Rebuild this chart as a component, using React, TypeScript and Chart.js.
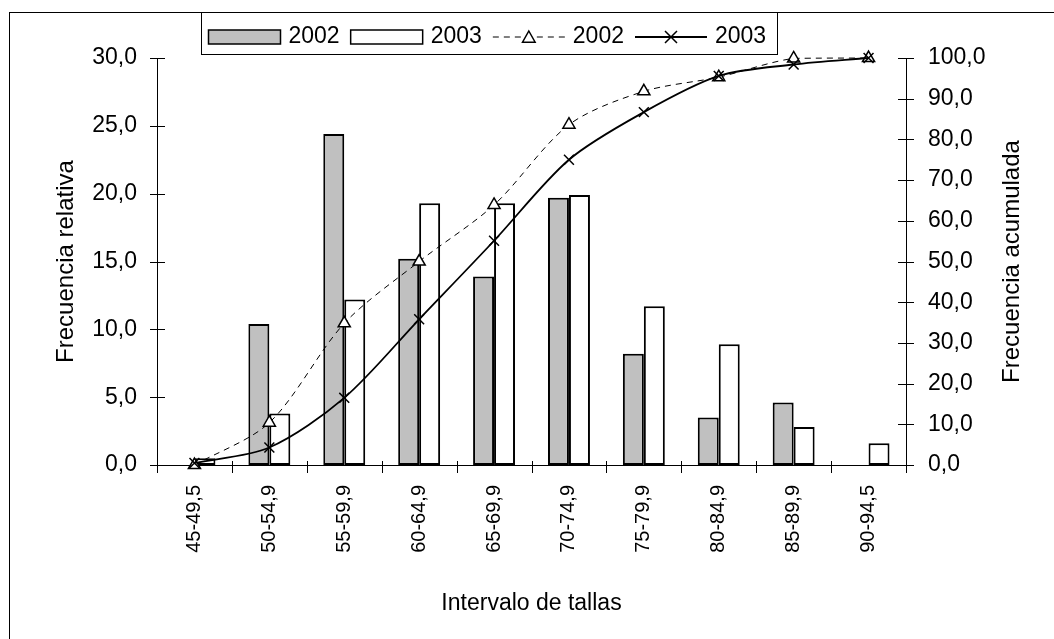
import React, { useEffect, useRef } from 'react';
import { Chart, registerables } from 'chart.js';

Chart.register(...registerables);

const FONT = "'Liberation Sans', Arial, sans-serif";

const categories = ['45-49,5', '50-54,9', '55-59,9', '60-64,9', '65-69,9', '70-74,9', '75-79,9', '80-84,9', '85-89,9', '90-94,5'];
const rel2002 = [0, 10.4, 24.4, 15.2, 13.9, 19.7, 8.2, 3.5, 4.6, 0];
const rel2003 = [0.5, 3.8, 12.2, 19.3, 19.3, 19.9, 11.7, 8.9, 2.8, 1.6];
const cum2002 = [0, 10.4, 34.8, 50.0, 63.9, 83.6, 91.8, 95.3, 99.9, 100];
const cum2003 = [0.5, 4.3, 16.5, 35.8, 55.1, 75.0, 86.7, 95.6, 98.4, 100];

const leftAxis = { min: 0, max: 30, step: 5 };
const rightAxis = { min: 0, max: 100, step: 10 };

const legendLabels = ['2002', '2003', '2002', '2003'];
const titleLeft = 'Frecuencia relativa';
const titleRight = 'Frecuencia acumulada';
const titleX = 'Intervalo de tallas';

const fmt = (v: number) => Number(v).toFixed(1).replace('.', ',');

function drawTriangle(ctx: CanvasRenderingContext2D, x: number, y: number, r: number) {
  ctx.beginPath();
  ctx.moveTo(x, y - r);
  ctx.lineTo(x + r * 0.9, y + r * 0.6);
  ctx.lineTo(x - r * 0.9, y + r * 0.6);
  ctx.closePath();
  ctx.fillStyle = '#fff';
  ctx.fill();
  ctx.setLineDash([]);
  ctx.lineWidth = 1.5;
  ctx.strokeStyle = '#000';
  ctx.stroke();
}

function drawCross(ctx: CanvasRenderingContext2D, x: number, y: number, r: number) {
  ctx.beginPath();
  ctx.moveTo(x - r, y - r);
  ctx.lineTo(x + r, y + r);
  ctx.moveTo(x + r, y - r);
  ctx.lineTo(x - r, y + r);
  ctx.setLineDash([]);
  ctx.lineWidth = 1.5;
  ctx.strokeStyle = '#000';
  ctx.stroke();
}

const decor = {
  id: 'decor',
  afterDraw(chart: any) {
    const ctx: CanvasRenderingContext2D = chart.ctx;
    const xs = chart.scales.x;
    const ys = chart.scales.y;
    const y1 = chart.scales.y1;
    const area = chart.chartArea;
    ctx.save();
    // outer frame
    ctx.strokeStyle = '#000';
    ctx.lineWidth = 1;
    ctx.setLineDash([]);
    ctx.strokeRect(9.5, 12.5, 2000, 2000);

    // tick marks
    ctx.beginPath();
    ys.ticks.forEach((t: any) => {
      const py = Math.round(ys.getPixelForValue(t.value)) + 0.5;
      ctx.moveTo(area.left - 7, py);
      ctx.lineTo(area.left + 8, py);
    });
    y1.ticks.forEach((t: any) => {
      const py = Math.round(y1.getPixelForValue(t.value)) + 0.5;
      ctx.moveTo(area.right - 8, py);
      ctx.lineTo(area.right + 8, py);
    });
    const n = categories.length;
    const half = (xs.getPixelForValue(1) - xs.getPixelForValue(0)) / 2;
    for (let i = 0; i <= n; i++) {
      const px = Math.round(i < n ? xs.getPixelForValue(i) - half : xs.getPixelForValue(n - 1) + half) + 0.5;
      ctx.moveTo(px, area.bottom - 4);
      ctx.lineTo(px, area.bottom + 8);
    }
    ctx.stroke();

    // right axis title (reads bottom-to-top)
    ctx.save();
    ctx.translate(1012, (area.top + area.bottom) / 2);
    ctx.rotate(-Math.PI / 2);
    ctx.font = `24px ${FONT}`;
    ctx.fillStyle = '#000';
    ctx.textAlign = 'center';
    ctx.textBaseline = 'middle';
    ctx.fillText(titleRight, 0, 0);
    ctx.restore();

    // legend
    ctx.font = `23px ${FONT}`;
    ctx.textBaseline = 'middle';
    ctx.textAlign = 'left';
    const boxLeft = 201.5;
    const boxTop = 12.5;
    const boxH = 42;
    const cy = 37;
    const symW = 72;
    let total = 7;
    legendLabels.forEach((l) => {
      total += symW + 8 + ctx.measureText(l).width + 11;
    });
    ctx.fillStyle = '#fff';
    ctx.fillRect(boxLeft, boxTop, total, boxH);
    ctx.strokeStyle = '#000';
    ctx.lineWidth = 1;
    ctx.strokeRect(boxLeft, boxTop, Math.round(total), boxH);
    let lx = boxLeft + 7;
    legendLabels.forEach((l, i) => {
      const ds = chart.data.datasets[i];
      if (i < 2) {
        ctx.fillStyle = ds.backgroundColor;
        ctx.fillRect(lx, cy - 7, symW, 14);
        ctx.lineWidth = 1.5;
        ctx.strokeStyle = '#000';
        ctx.strokeRect(lx, cy - 7, symW, 14);
      } else {
        ctx.beginPath();
        ctx.setLineDash(ds.borderDash || []);
        ctx.lineWidth = ds.borderWidth;
        ctx.strokeStyle = '#000';
        ctx.moveTo(lx, cy);
        ctx.lineTo(lx + symW, cy);
        ctx.stroke();
        ctx.setLineDash([]);
        if (i === 2) drawTriangle(ctx, lx + symW / 2, cy + 1, 7);
        else drawCross(ctx, lx + symW / 2, cy, 6);
      }
      lx += symW + 8;
      ctx.fillStyle = '#000';
      ctx.fillText(l, lx, cy);
      lx += ctx.measureText(l).width + 11;
    });
    ctx.restore();
  },
};

export default function App() {
  const ref = useRef<HTMLCanvasElement | null>(null);
  useEffect(() => {
    document.body.style.margin = '0';
    const canvas = ref.current;
    if (!canvas) return;
    const tri = document.createElement('canvas');
    const chart = new Chart(canvas, {
      type: 'bar',
      data: {
        labels: categories,
        datasets: [
          {
            type: 'bar',
            label: '2002',
            data: rel2002,
            backgroundColor: '#c0c0c0',
            borderColor: '#000',
            borderWidth: 2,
            borderSkipped: false,
            yAxisID: 'y',
            categoryPercentage: 0.56,
            barPercentage: 1.0,
            order: 2,
          },
          {
            type: 'bar',
            label: '2003',
            data: rel2003,
            backgroundColor: '#ffffff',
            borderColor: '#000',
            borderWidth: 2,
            borderSkipped: false,
            yAxisID: 'y',
            categoryPercentage: 0.56,
            barPercentage: 1.0,
            order: 2,
          },
          {
            type: 'line',
            label: '2002',
            data: cum2002,
            borderColor: '#000',
            borderWidth: 1,
            borderDash: [6, 5],
            tension: 0.3,
            pointStyle: 'triangle',
            pointRadius: 7,
            pointBorderWidth: 1.5,
            pointBackgroundColor: '#fff',
            pointBorderColor: '#000',
            yAxisID: 'y1',
            clip: false,
            order: 1,
          },
          {
            type: 'line',
            label: '2003',
            data: cum2003,
            borderColor: '#000',
            borderWidth: 1.8,
            tension: 0.3,
            pointStyle: 'crossRot',
            pointRadius: 7,
            pointBorderWidth: 1.5,
            pointBackgroundColor: '#000',
            pointBorderColor: '#000',
            yAxisID: 'y1',
            clip: false,
            order: 0,
          },
        ] as any,
      },
      options: {
        responsive: false,
        animation: false,
        events: [],
        layout: { padding: { top: 58, left: 0, right: 0, bottom: 0 } },
        plugins: { legend: { display: false }, tooltip: { enabled: false } },
        scales: {
          x: {
            offset: true,
            grid: { display: false, drawTicks: false },
            border: { display: true, color: '#000', width: 1 },
            ticks: {
              autoSkip: false,
              minRotation: 90,
              maxRotation: 90,
              padding: 20,
              color: '#000',
              font: { family: FONT, size: 20 },
            },
            title: {
              display: true,
              text: titleX,
              color: '#000',
              font: { family: FONT, size: 23 },
              padding: { top: 0, bottom: 22 },
            },
            afterFit: (s: any) => { s.height = 639 - 465; },
          },
          y: {
            position: 'left',
            min: leftAxis.min,
            max: leftAxis.max,
            grid: { display: false, drawTicks: false },
            border: { display: true, color: '#000', width: 1 },
            ticks: {
              stepSize: leftAxis.step,
              padding: 20,
              color: '#000',
              font: { family: FONT, size: 23 },
              callback: (v: any) => fmt(v),
            },
            title: {
              display: true,
              text: titleLeft,
              color: '#000',
              font: { family: FONT, size: 24 },
              padding: { top: 52, bottom: 0 },
            },
            afterFit: (s: any) => { s.width = 157; },
          },
          y1: {
            position: 'right',
            min: rightAxis.min,
            max: rightAxis.max,
            grid: { display: false, drawTicks: false },
            border: { display: true, color: '#000', width: 1 },
            ticks: {
              stepSize: rightAxis.step,
              padding: 22,
              color: '#000',
              font: { family: FONT, size: 23 },
              callback: (v: any) => fmt(v),
            },
            afterFit: (s: any) => { s.width = 1054 - 906; },
          },
        },
      } as any,
      plugins: [decor],
    });
    return () => chart.destroy();
  }, []);
  return (
    <div style={{ position: 'fixed', left: 0, top: 0, width: 1054, height: 639, background: '#fff' }}>
      <canvas ref={ref} width={1054} height={639} style={{ display: 'block', width: 1054, height: 639 }} />
    </div>
  );
}
